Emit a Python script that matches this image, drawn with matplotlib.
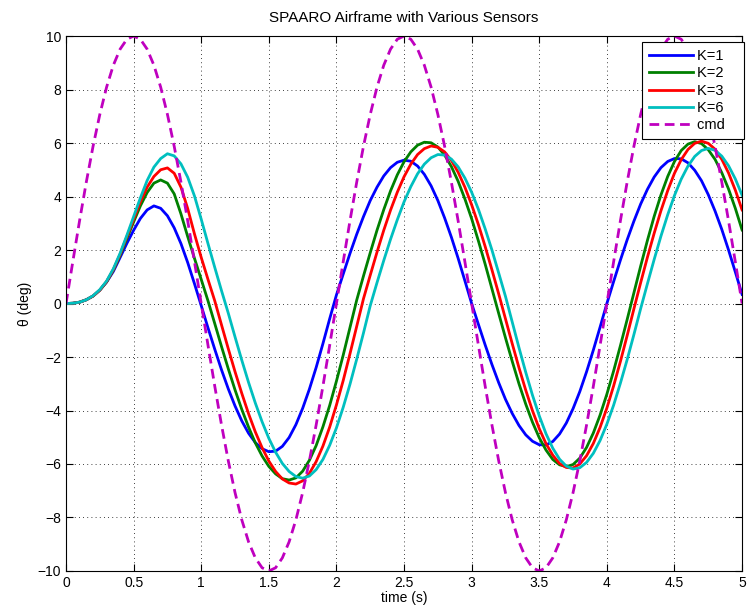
import numpy as np
import matplotlib.pyplot as plt

plt.rcParams['font.family'] = ['Liberation Sans', 'DejaVu Sans']

# time samples (s), every 0.05 s
t = np.linspace(0, 5, 101)

# pitch response (deg), one row per second
k1 = [0, 0.01, 0.05, 0.14, 0.28, 0.5, 0.8, 1.2, 1.72, 2.25, 2.74, 3.18, 3.5, 3.65, 3.56, 3.28, 2.83, 2.24, 1.53, 0.74,
      -0.08, -0.91, -1.71, -2.48, -3.19, -3.83, -4.39, -4.85, -5.2, -5.43, -5.54, -5.52, -5.34, -5.01, -4.53, -3.92, -3.2, -2.39, -1.5, -0.57,
      0.32, 1.1, 1.87, 2.59, 3.25, 3.85, 4.35, 4.77, 5.08, 5.28, 5.36, 5.32, 5.14, 4.83, 4.4, 3.85, 3.2, 2.48, 1.69, 0.85,
      0, -0.78, -1.55, -2.28, -2.96, -3.58, -4.11, -4.56, -4.91, -5.15, -5.28, -5.29, -5.16, -4.88, -4.47, -3.93, -3.29, -2.55, -1.74, -0.88,
      0, 0.82, 1.62, 2.38, 3.08, 3.72, 4.27, 4.73, 5.08, 5.31, 5.42, 5.41, 5.26, 4.98, 4.59, 4.07, 3.46, 2.77, 2.0, 1.18,
      0.34]
k2 = [0, 0.01, 0.05, 0.14, 0.28, 0.5, 0.81, 1.25, 1.8, 2.43, 3.05, 3.65, 4.15, 4.5, 4.62, 4.5, 4.1, 3.35, 2.5, 1.69,
      0.9, 0.1, -0.75, -1.61, -2.44, -3.23, -3.96, -4.62, -5.21, -5.7, -6.09, -6.37, -6.55, -6.6, -6.52, -6.27, -5.86, -5.31, -4.61, -3.81,
      -2.9, -1.93, -0.9, 0.13, 1.03, 1.9, 2.74, 3.51, 4.21, 4.81, 5.3, 5.67, 5.92, 6.03, 6.01, 5.85, 5.55, 5.12, 4.57, 3.91,
      3.17, 2.34, 1.47, 0.55, -0.37, -1.28, -2.16, -3.0, -3.76, -4.44, -5.02, -5.48, -5.83, -6.03, -6.1, -6.02, -5.78, -5.38, -4.84, -4.17,
      -3.39, -2.52, -1.58, -0.6, 0.4, 1.4, 2.36, 3.26, 4.06, 4.75, 5.31, 5.72, 5.96, 6.05, 5.98, 5.75, 5.39, 4.89, 4.28, 3.56,
      2.75]
k3 = [0, 0.01, 0.05, 0.14, 0.28, 0.5, 0.82, 1.27, 1.84, 2.5, 3.15, 3.8, 4.35, 4.75, 5.0, 5.07, 4.87, 4.35, 3.55, 2.6,
      1.72, 0.9, 0.1, -0.8, -1.69, -2.55, -3.36, -4.12, -4.8, -5.39, -5.89, -6.28, -6.56, -6.71, -6.75, -6.63, -6.35, -5.91, -5.33, -4.62,
      -3.79, -2.88, -1.88, -0.85, 0.18, 1.06, 1.92, 2.74, 3.49, 4.16, 4.74, 5.21, 5.57, 5.79, 5.89, 5.84, 5.67, 5.35, 4.91, 4.35,
      3.69, 2.95, 2.13, 1.26, 0.36, -0.57, -1.5, -2.4, -3.24, -4.01, -4.68, -5.24, -5.67, -5.98, -6.13, -6.15, -6.0, -5.69, -5.23, -4.63,
      -3.91, -3.08, -2.17, -1.2, -0.2, 0.78, 1.73, 2.63, 3.47, 4.22, 4.87, 5.38, 5.76, 5.99, 6.07, 5.99, 5.77, 5.39, 4.88, 4.24,
      3.5]
k6 = [0, 0.01, 0.05, 0.14, 0.29, 0.52, 0.84, 1.3, 1.88, 2.55, 3.25, 3.95, 4.6, 5.1, 5.42, 5.6, 5.52, 5.22, 4.72, 4.02,
      3.15, 2.24, 1.35, 0.48, -0.36, -1.25, -2.12, -2.95, -3.72, -4.42, -5.04, -5.56, -5.98, -6.28, -6.47, -6.53, -6.45, -6.21, -5.83, -5.3,
      -4.65, -3.88, -3.02, -2.08, -1.1, -0.08, 0.78, 1.61, 2.4, 3.13, 3.8, 4.37, 4.85, 5.21, 5.45, 5.57, 5.55, 5.4, 5.11, 4.69,
      4.16, 3.52, 2.79, 2.0, 1.14, 0.27, -0.69, -1.65, -2.57, -3.43, -4.2, -4.87, -5.41, -5.82, -6.08, -6.19, -6.14, -5.94, -5.6, -5.12,
      -4.51, -3.8, -2.98, -2.1, -1.16, -0.19, 0.74, 1.65, 2.52, 3.32, 4.04, 4.65, 5.14, 5.5, 5.72, 5.8, 5.73, 5.51, 5.15, 4.66,
      4.05]
cmd = [0, 1.56, 3.09, 4.54, 5.88, 7.07, 8.09, 8.91, 9.51, 9.88, 10, 9.88, 9.51, 8.91, 8.09, 7.07, 5.88, 4.54, 3.09, 1.56,
       0, -1.56, -3.09, -4.54, -5.88, -7.07, -8.09, -8.91, -9.51, -9.88, -10, -9.88, -9.51, -8.91, -8.09, -7.07, -5.88, -4.54, -3.09, -1.56,
       0, 1.56, 3.09, 4.54, 5.88, 7.07, 8.09, 8.91, 9.51, 9.88, 10, 9.88, 9.51, 8.91, 8.09, 7.07, 5.88, 4.54, 3.09, 1.56,
       0, -1.56, -3.09, -4.54, -5.88, -7.07, -8.09, -8.91, -9.51, -9.88, -10, -9.88, -9.51, -8.91, -8.09, -7.07, -5.88, -4.54, -3.09, -1.56,
       0, 1.56, 3.09, 4.54, 5.88, 7.07, 8.09, 8.91, 9.51, 9.88, 10, 9.88, 9.51, 8.91, 8.09, 7.07, 5.88, 4.54, 3.09, 1.56,
       0]

labels = ['K=1', 'K=2', 'K=3', 'K=6', 'cmd']
colors = [(0, 0, 1), (0, 0.5, 0), (1, 0, 0), (0, 0.75, 0.75), (0.75, 0, 0.75)]

fig = plt.figure(figsize=(7.52, 6.11), dpi=100)
ax = fig.add_axes([0.0878, 0.0655, 0.899, 0.8755])

lw = 2.0
for y, lab, c in zip([k1, k2, k3, k6], labels[:4], colors[:4]):
    ax.plot(t, y, color=c, lw=lw, label=lab + '   ')  # matlab leaves room after the text
ax.plot(t, cmd, color=colors[4], lw=lw, ls=(0, (3.5, 2)), label=labels[4] + '   ')

ax.set_xlim(0, 5)
ax.set_ylim(-10, 10)
ax.set_xticks(np.arange(0, 5.01, 0.5))
ax.set_xticklabels(['0', '0.5', '1', '1.5', '2', '2.5', '3', '3.5', '4', '4.5', '5'])
ax.set_yticks(np.arange(-10, 11, 2))
ax.tick_params(direction='in', top=True, right=True, labelsize=10, length=5)
ax.grid(True, ls=(0, (1, 4)), color='black', lw=0.6)

ax.set_title('SPAARO Airframe with Various Sensors', fontsize=11, pad=10)
ax.set_xlabel('time (s)', fontsize=10, labelpad=1)
ax.set_ylabel('θ (deg)', fontsize=10)

leg = ax.legend(loc='upper right', bbox_to_anchor=(1.003, 0.989), borderaxespad=0,
                fontsize=10.5, fancybox=False, framealpha=1, edgecolor='black',
                handlelength=3.0, labelspacing=0.22, handletextpad=0.25, borderpad=0.5)
leg.get_frame().set_linewidth(0.8)

fig.savefig('out.png', dpi=100)
